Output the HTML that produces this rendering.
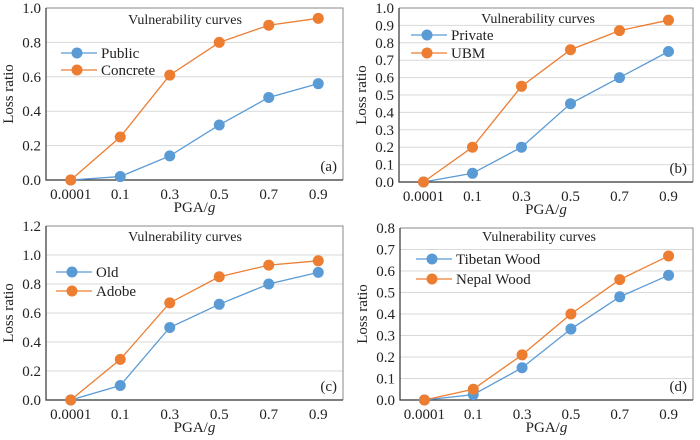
<!DOCTYPE html>
<html><head><meta charset="utf-8"><style>
body{margin:0;background:#fff;}
text{font-family:"Liberation Serif","Times New Roman",serif;fill:#222;}
</style></head><body>
<svg id="chart" width="700" height="435" viewBox="0 0 700 435" font-family="Liberation Serif, Times New Roman, serif"></svg>
<script>
const categories=["0.0001","0.1","0.3","0.5","0.7","0.9"];
const publicVals=[0,0.02,0.14,0.32,0.48,0.56];
const concreteVals=[0,0.25,0.61,0.80,0.90,0.94];
const privateVals=[0,0.05,0.20,0.45,0.60,0.75];
const ubmVals=[0,0.20,0.55,0.76,0.87,0.93];
const oldVals=[0,0.10,0.50,0.66,0.80,0.88];
const adobeVals=[0,0.28,0.67,0.85,0.93,0.96];
const tibetanVals=[0,0.025,0.15,0.33,0.48,0.58];
const nepalVals=[0,0.05,0.21,0.40,0.56,0.67];
const ticksA=["0.0","0.2","0.4","0.6","0.8","1.0"];
const ticksB=["0.0","0.1","0.2","0.3","0.4","0.5","0.6","0.7","0.8","0.9","1.0"];
const ticksC=["0.0","0.2","0.4","0.6","0.8","1.0","1.2"];
const ticksD=["0.0","0.1","0.2","0.3","0.4","0.5","0.6","0.7","0.8"];

const NS="http://www.w3.org/2000/svg";
const svg=document.getElementById('chart');
const FONT="'Liberation Serif', 'Times New Roman', serif";
function mk(tag,attrs,parent){const e=document.createElementNS(NS,tag);for(const k in attrs)e.setAttribute(k,attrs[k]);if(tag==='text'){e.setAttribute('font-family',FONT);e.style.fontFamily=FONT;}(parent||svg).appendChild(e);return e;}
const BLUE="#5B9BD5",ORANGE="#ED7D31";

function panel(p){
  const g=mk('g',{});
  
  
  const ymax=parseFloat(p.ticks[p.ticks.length-1]);
  const y=v=>p.bottom-(v/ymax)*(p.bottom-p.top);
  const step=(p.right-p.left)/categories.length;
  const x=i=>p.left+step*(i+0.5);
  p.ticks.forEach(t=>{
    const v=parseFloat(t),yy=y(v);
    if(v>0){const gl=mk('line',{x1:p.left,x2:p.right,y1:yy,y2:yy,stroke:'#d9d9d9','stroke-width':1},g);
      }
    const tl=mk('text',{x:p.left-5,y:yy+5,'text-anchor':'end','font-size':15},g);tl.textContent=t;
    
  });
  const fr=mk('path',{d:`M${p.left},${p.top}H${p.right}V${p.bottom}`,fill:'none',stroke:'#888','stroke-width':1},g);
  
  const ax=mk('path',{d:`M${p.left},${p.top}V${p.bottom}H${p.right}`,fill:'none',stroke:'#333','stroke-width':1.2},g);
  
  categories.forEach((c,i)=>{
    const tl=mk('text',{x:x(i),y:p.bottom+19,'text-anchor':'middle','font-size':15},g);tl.textContent=c;
    
  });
  const xt=mk('text',{x:(p.left+p.right)/2,y:p.bottom+32,'text-anchor':'middle','font-size':15},g);
  xt.innerHTML='PGA/<tspan font-style="italic">g</tspan>';
  
  const yc=(p.top+p.bottom)/2;
  const yx=p.left-33;
  const yt=mk('text',{x:yx,y:yc,'text-anchor':'middle','font-size':15,transform:`rotate(-90 ${yx} ${yc})`},g);
  yt.textContent='Loss ratio';
  
  const ti=mk('text',{x:p.left+139,y:p.titleY,'text-anchor':'middle','font-size':14},g);ti.textContent='Vulnerability curves';
  
  const lb=mk('text',{x:p.right-6,y:p.bottom-9,'text-anchor':'end','font-size':15},g);lb.textContent='('+p.tag+')';
  
  p.series.forEach((s,si)=>{
    const pts=s.vals.map((v,i)=>x(i)+','+y(v)).join(' ');
    const ln=mk('polyline',{points:pts,fill:'none',stroke:s.color,'stroke-width':1.3},g);
    
    s.vals.forEach((v,i)=>{
      const c=mk('circle',{cx:x(i),cy:y(v),r:5.5,fill:s.color},g);
      
    });
    const ly=p.legY[si];
    const lg=mk('g',{},g);
    
    mk('line',{x1:p.left+p.legX,x2:p.left+p.legX+36,y1:ly,y2:ly,stroke:s.color,'stroke-width':1.3},lg);
    mk('circle',{cx:p.left+p.legX+16,cy:ly,r:5.5,fill:s.color},lg);
    const lt=mk('text',{x:p.left+p.legX+40,y:ly+5,'font-size':15},lg);lt.textContent=s.name;
  });
}
panel({tag:'a',left:46,right:343,top:8,bottom:180,ticks:ticksA,titleY:24,legX:15,legY:[53,70],
  series:[{key:'public',name:'Public',vals:publicVals,color:BLUE},{key:'concrete',name:'Concrete',vals:concreteVals,color:ORANGE}]});
panel({tag:'b',left:399,right:693,top:8,bottom:182,ticks:ticksB,titleY:23,legX:12,legY:[35,53],
  series:[{key:'private',name:'Private',vals:privateVals,color:BLUE},{key:'ubm',name:'UBM',vals:ubmVals,color:ORANGE}]});
panel({tag:'c',left:46,right:343,top:226,bottom:400,ticks:ticksC,titleY:241,legX:10,legY:[272,291],
  series:[{key:'old',name:'Old',vals:oldVals,color:BLUE},{key:'adobe',name:'Adobe',vals:adobeVals,color:ORANGE}]});
panel({tag:'d',left:400,right:693,top:228,bottom:400,ticks:ticksD,titleY:241,legX:16,legY:[259,279],
  series:[{key:'tibetan',name:'Tibetan Wood',vals:tibetanVals,color:BLUE},{key:'nepal',name:'Nepal Wood',vals:nepalVals,color:ORANGE}]});
</script>
</body></html>
